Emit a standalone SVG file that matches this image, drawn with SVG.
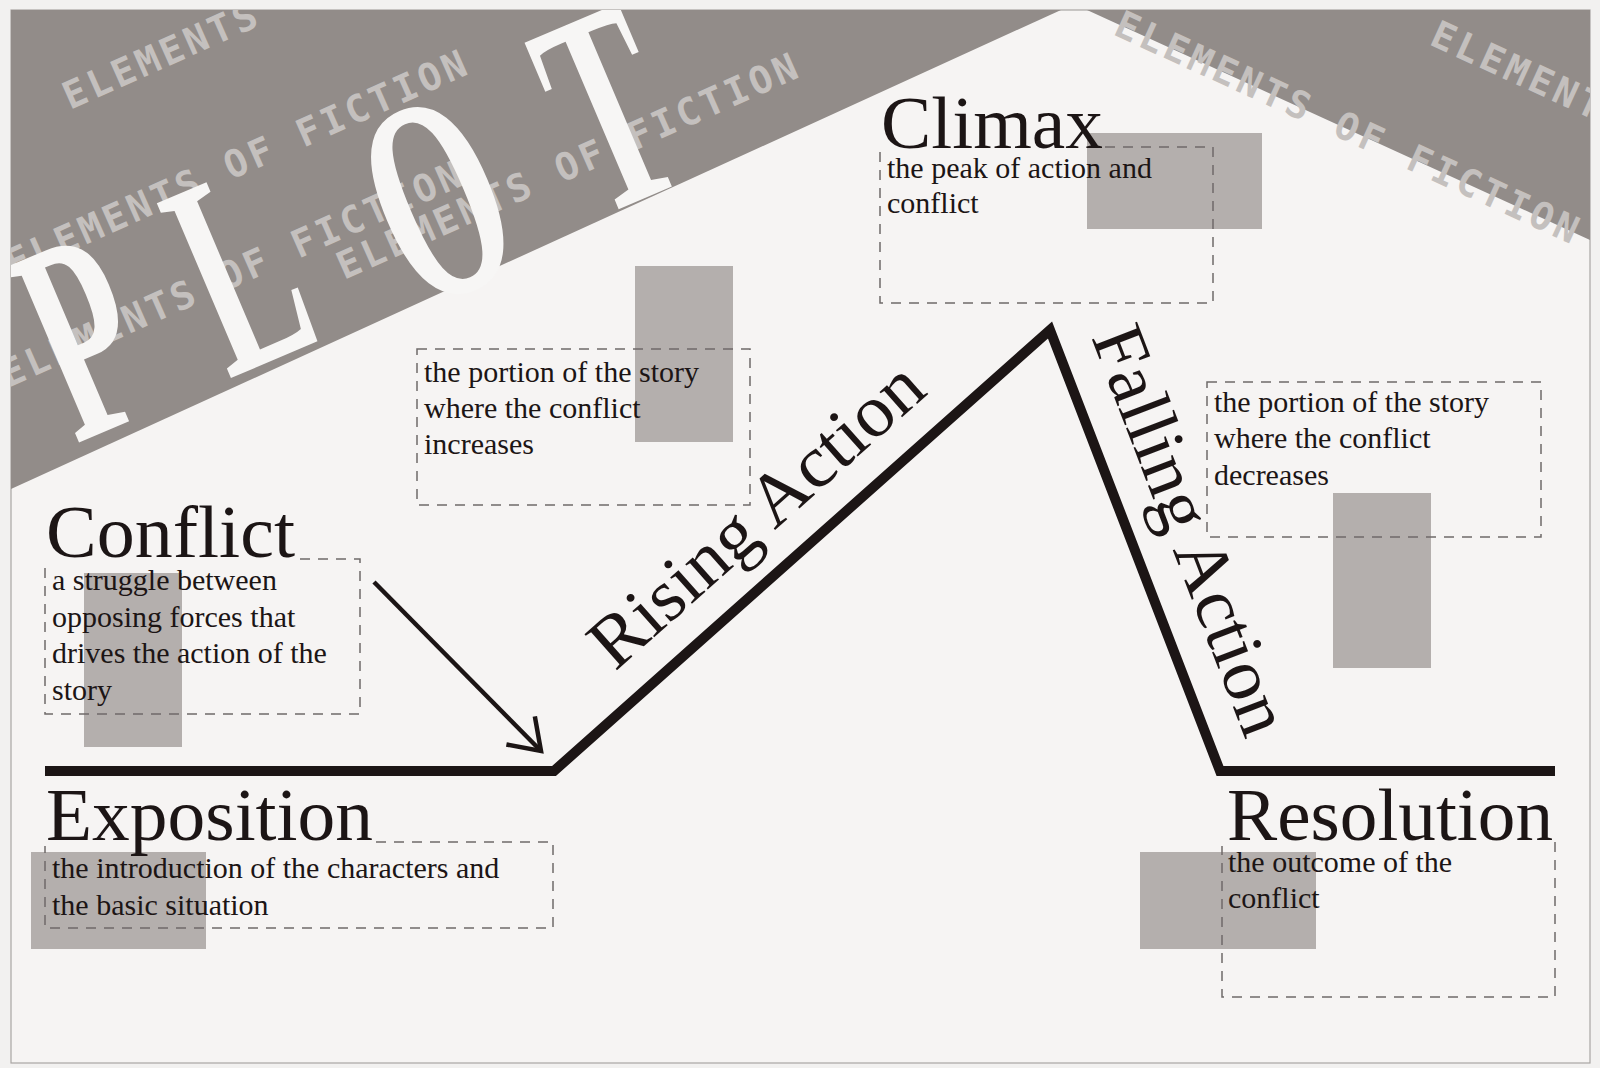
<svg xmlns="http://www.w3.org/2000/svg" width="1600" height="1068" viewBox="0 0 1600 1068">
  <style>
    .hdr { font-family: "Liberation Serif", "Times New Roman", serif; font-size: 74px; fill: #1c1515; }
    .body { font-family: "Liberation Serif", "Times New Roman", serif; font-size: 30px; fill: #1c1515; }
    .box { fill: none; stroke: #6f6a69; stroke-width: 1.5; stroke-dasharray: 10 8; }
    .ph { fill: #b4afad; }
    .deco { font-family: "DejaVu Sans Mono", monospace; font-weight: bold; font-size: 38px; fill: #c4c0be; }
    .plot { font-family: "Liberation Serif", "Times New Roman", serif; font-weight: bold; font-size: 290px; fill: #f7f6f5; text-anchor: middle; }
    .curve { fill: none; stroke: #1c1515; stroke-width: 10; stroke-linejoin: miter; stroke-miterlimit: 10; }
    .arrow { fill: none; stroke: #1c1515; stroke-width: 4.5; }
  </style>
  <defs>
    <clipPath id="page">
      <rect x="11" y="10" width="1579" height="1053"/>
    </clipPath>
    <marker id="chev" markerUnits="userSpaceOnUse" viewBox="-40 -30 50 60" refX="0" refY="0" markerWidth="50" markerHeight="60" orient="auto" overflow="visible">
      <path d="M-29,-20 L0,0 L-29,20" fill="none" stroke="#1c1515" stroke-width="4.5" stroke-linejoin="miter"/>
    </marker>
  </defs>

  <rect x="0" y="0" width="1600" height="1068" fill="#f2f1f0"/>
  <rect x="11" y="10" width="1579" height="1053" fill="#f6f4f3" stroke="#a9a5a3" stroke-width="1.2"/>

  <g id="banner" clip-path="url(#page)">
    <polygon points="11,10 1061,10 11,489" fill="#928c89"/>
    <polygon points="1087,10 1590,10 1590,240" fill="#928c89"/>
    <text class="deco" transform="translate(70,110) rotate(-24)" textLength="500" lengthAdjust="spacing">ELEMENTS OF FICTION</text>
    <text class="deco" transform="translate(13,277) rotate(-24)" textLength="500" lengthAdjust="spacing">ELEMENTS OF FICTION</text>
    <text class="deco" transform="translate(8,388) rotate(-24)" textLength="500" lengthAdjust="spacing">ELEMENTS OF FICTION</text>
    <text class="deco" transform="translate(344,280) rotate(-24)" textLength="500" lengthAdjust="spacing">ELEMENTS OF FICTION</text>
    <text class="deco" transform="translate(1112,34) rotate(24.6)" textLength="505" lengthAdjust="spacing">ELEMENTS OF FICTION</text>
    <text class="deco" transform="translate(1428,44) rotate(24.6)" textLength="505" lengthAdjust="spacing">ELEMENTS OF FICTION</text>
    <g transform="translate(85,440) rotate(-23) scale(0.55,1)">
      <text class="plot" x="70" y="0">P</text>
      <text class="plot" x="380" y="0">L</text>
      <text class="plot" x="760" y="12">O</text>
      <text class="plot" x="1110" y="-4">T</text>
    </g>
  </g>

  <g id="node-climax">
    <rect class="ph" x="1087" y="133" width="175" height="96"/>
    <path class="box" d="M1105,147 H1213 V303 H880 V149"/>
    <text class="hdr" x="881" y="148" textLength="222" lengthAdjust="spacingAndGlyphs">Climax</text>
    <text class="body" x="887" y="178">the peak of action and</text>
    <text class="body" x="887" y="213">conflict</text>
  </g>

  <g id="node-rising">
    <rect class="ph" x="635" y="266" width="98" height="176"/>
    <rect class="box" x="417" y="349" width="333" height="156"/>
    <text class="body" x="424" y="382">the portion of the story</text>
    <text class="body" x="424" y="418">where the conflict</text>
    <text class="body" x="424" y="454">increases</text>
  </g>

  <g id="node-falling">
    <rect class="ph" x="1333" y="493" width="98" height="175"/>
    <rect class="box" x="1207" y="382" width="334" height="155"/>
    <text class="body" x="1214" y="412">the portion of the story</text>
    <text class="body" x="1214" y="448">where the conflict</text>
    <text class="body" x="1214" y="485">decreases</text>
  </g>

  <g id="node-conflict">
    <rect class="ph" x="84" y="573" width="98" height="174"/>
    <path class="box" d="M300,559 H360 V714 H45 V563"/>
    <text class="hdr" x="46" y="557" textLength="249" lengthAdjust="spacingAndGlyphs">Conflict</text>
    <text class="body" x="52" y="590">a struggle between</text>
    <text class="body" x="52" y="627">opposing forces that</text>
    <text class="body" x="52" y="663">drives the action of the</text>
    <text class="body" x="52" y="700">story</text>
  </g>

  <g id="node-exposition">
    <rect class="ph" x="31" y="852" width="175" height="97"/>
    <path class="box" d="M376,842 H553 V928 H45 V846"/>
    <text class="hdr" x="46" y="840" textLength="327" lengthAdjust="spacingAndGlyphs">Exposition</text>
    <text class="body" x="52" y="878">the introduction of the characters and</text>
    <text class="body" x="52" y="915">the basic situation</text>
  </g>

  <g id="node-resolution">
    <rect class="ph" x="1140" y="852" width="176" height="97"/>
    <path class="box" d="M1555,842 V997 H1222 V846"/>
    <text class="hdr" x="1227" y="840" textLength="326" lengthAdjust="spacingAndGlyphs">Resolution</text>
    <text class="body" x="1228" y="872">the outcome of the</text>
    <text class="body" x="1228" y="908">conflict</text>
  </g>

  <g id="connectors">
    <polyline class="curve" points="45,771 554,771 1050,330 1220,771 1555,771"/>
    <line class="arrow" x1="374" y1="582" x2="541" y2="751" marker-end="url(#chev)"/>
  </g>

  <g id="labels">
    <text class="hdr" transform="translate(615,672) rotate(-41.6)" textLength="420" lengthAdjust="spacingAndGlyphs">Rising Action</text>
    <text class="hdr" transform="translate(1091,337) rotate(69)" textLength="432" lengthAdjust="spacingAndGlyphs">Falling Action</text>
  </g>
</svg>
